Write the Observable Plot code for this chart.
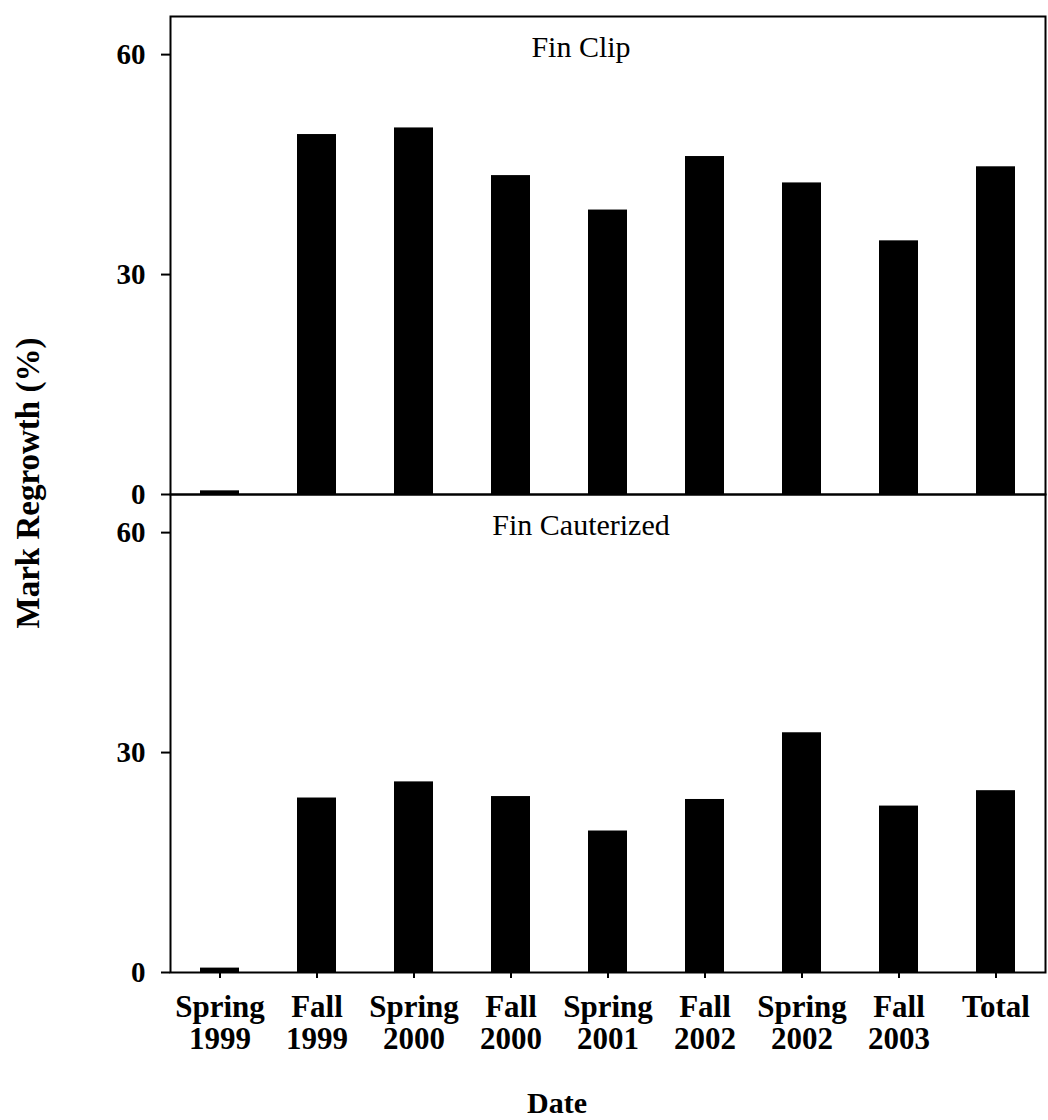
<!DOCTYPE html>
<html><head><meta charset="utf-8">
<script src="https://cdn.jsdelivr.net/npm/d3@7"></script>
<script src="https://cdn.jsdelivr.net/npm/@observablehq/plot@0.6"></script>
<style>body{margin:0;background:#fff}</style>
</head><body><div id="chart"></div>
<script>
const dates = ["Spring 1999","Fall 1999","Spring 2000","Fall 2000","Spring 2001","Fall 2002","Spring 2002","Fall 2003","Total"];
const panels = ["Fin Clip","Fin Cauterized"];
const finClip = [0.5,49.1,50.0,43.5,38.8,46.1,42.5,34.6,44.7];
const finCauterized = [0.6,23.8,26.0,24.0,19.3,23.6,32.7,22.7,24.8];
const yTicks = [0,30,60];
const yLabel = "Mark Regrowth (%)";
const xLabel = "Date";

const data = [
  ...dates.map((d,i)=>({date:d, panel:panels[0], value:finClip[i]})),
  ...dates.map((d,i)=>({date:d, panel:panels[1], value:finCauterized[i]}))
];

const chart = Plot.plot({
  width:1048, height:1120,
  marginLeft:170, marginRight:3, marginTop:15, marginBottom:148,
  style:{fontFamily:"'Liberation Serif','Times New Roman',serif", background:"#fff", color:"#000"},
  x:{domain:dates, paddingInner:0.6, paddingOuter:0.3},
  y:{domain:[0,65.2]},
  fy:{domain:panels, padding:0, axis:null},
  marks:[
    Plot.barY(data,{x:"date", y:"value", fy:"panel", fill:"#000"}),
    Plot.frame({stroke:"#000", strokeWidth:2}),
    Plot.text(panels,{fy:d=>d, text:d=>d, frameAnchor:"top", lineAnchor:"middle", dy:31, dx:-27, fontSize:30}),
    Plot.axisY({ticks:yTicks, tickSize:9, tickPadding:16, fontSize:29, fontWeight:"bold", label:null, strokeWidth:2}),
    Plot.axisX({tickSize:6, tickPadding:15, fontSize:31, fontWeight:"bold", lineHeight:1.05, tickFormat:d=>d.replace(" ","\n"), label:null, strokeWidth:2})
  ]
});

const svg = d3.select(chart);
svg.append("text")
  .attr("transform","translate(28,483) rotate(-90)")
  .attr("text-anchor","middle").attr("dominant-baseline","central")
  .attr("font-size",33).attr("font-weight","bold").attr("fill","#000")
  .text(yLabel);
svg.append("text")
  .attr("x",557).attr("y",1113)
  .attr("text-anchor","middle")
  .attr("font-size",30).attr("font-weight","bold").attr("fill","#000")
  .text(xLabel);

document.getElementById("chart").appendChild(chart);
</script>
</body></html>
